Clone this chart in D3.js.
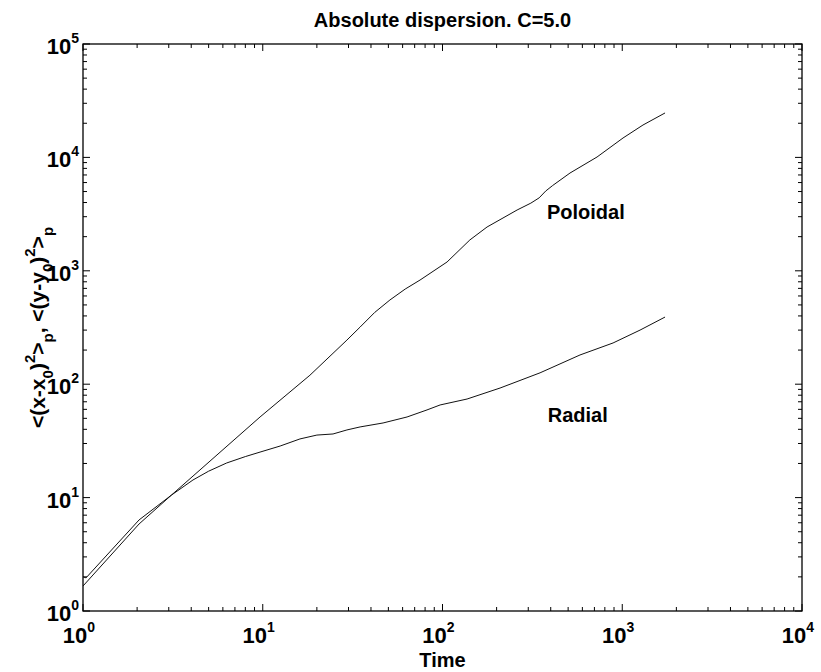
<!DOCTYPE html>
<html><head><meta charset="utf-8">
<script src="https://cdn.jsdelivr.net/npm/d3@7"></script>
<style>body{margin:0;background:#fff;} text{font-family:"Liberation Sans",Arial,sans-serif;font-weight:bold;fill:#000;}</style>
</head><body>
<svg id="c" width="821" height="672"></svg>
<script>
const titleText = "Absolute dispersion. C=5.0";
const xLabel = "Time";
const xExponents = [0, 1, 2, 3, 4];
const yExponents = [0, 1, 2, 3, 4, 5];

const radialT = [1, 1.04, 2.05, 3.1, 4.09, 5, 6.3, 8, 9.66, 12.5, 16.1, 20, 24.6, 29.4, 34.8, 46.7, 63.5, 82, 97, 137, 209, 349, 582, 889, 1256, 1730];
const radialV = [2.0, 1.96, 6.35, 10.5, 14.3, 17.1, 20.2, 23.0, 25.2, 28.5, 32.9, 35.6, 36.4, 39.5, 42, 45.5, 51.4, 59.3, 65.6, 74, 92.5, 126, 181, 231, 300, 391];

const poloidalT = [1, 2.05, 3.1, 9.66, 18.3, 29.4, 34.8, 42, 51, 62, 75, 106, 142, 177, 260, 310, 345, 375, 410, 512, 724, 1010, 1304, 1730];
const poloidalV = [1.66, 5.85, 10.5, 51.4, 120, 245, 319, 430, 553, 690, 829, 1196, 1871, 2434, 3436, 3950, 4400, 5050, 5650, 7280, 10080, 14830, 19300, 24650];

const labels = [{text: "Poloidal", t: 381, v: 2864}, {text: "Radial", t: 385, v: 46.4}];

const svg = d3.select("#c");
const L = 83, R = 802, T = 44, B = 611;
const x = d3.scaleLog().domain([1, 1e4]).range([L, R]);
const y = d3.scaleLog().domain([1, 1e5]).range([B, T]);

const g = svg.append("g");
const maj = 7, mnr = 4;
const isMajor = v => Math.abs(Math.log10(v) - Math.round(Math.log10(v))) < 1e-9;
x.ticks().forEach(v => {
  const len = isMajor(v) ? maj : mnr;
  const px = x(v);
  g.append("line").attr("x1", px).attr("x2", px).attr("y1", B).attr("y2", B - len).attr("stroke", "#000").attr("stroke-width", 1);
  g.append("line").attr("x1", px).attr("x2", px).attr("y1", T).attr("y2", T + len).attr("stroke", "#000").attr("stroke-width", 1);
});
y.ticks().forEach(v => {
  const len = isMajor(v) ? maj : mnr;
  const py = y(v);
  g.append("line").attr("y1", py).attr("y2", py).attr("x1", L).attr("x2", L + len).attr("stroke", "#000").attr("stroke-width", 1);
  g.append("line").attr("y1", py).attr("y2", py).attr("x1", R).attr("x2", R - len).attr("stroke", "#000").attr("stroke-width", 1);
});
g.append("rect").attr("x", L).attr("y", T).attr("width", R - L).attr("height", B - T).attr("fill", "none").attr("stroke", "#000").attr("stroke-width", 1.3);

xExponents.forEach(e => {
  const t = svg.append("text").attr("x", x(Math.pow(10, e)) - 4).attr("y", B + 32).attr("text-anchor", "middle").style("font-size", "22px");
  t.append("tspan").text("10");
  t.append("tspan").attr("dy", -11).style("font-size", "14px").text(e);
});
yExponents.forEach(e => {
  const t = svg.append("text").attr("x", L - 4).attr("y", y(Math.pow(10, e)) + 10).attr("text-anchor", "end").style("font-size", "22px");
  t.append("tspan").text("10");
  t.append("tspan").attr("dy", -11).style("font-size", "14px").text(e);
});

const line = d3.line().x(d => x(d[0])).y(d => y(d[1]));
svg.append("path").datum(radialT.map((t, i) => [t, radialV[i]])).attr("d", line).attr("fill", "none").attr("stroke", "#111").attr("stroke-width", 1);
svg.append("path").datum(poloidalT.map((t, i) => [t, poloidalV[i]])).attr("d", line).attr("fill", "none").attr("stroke", "#111").attr("stroke-width", 1);

labels.forEach(l => {
  svg.append("text").attr("x", x(l.t)).attr("y", y(l.v)).style("font-size", "20px").text(l.text);
});

svg.append("text").attr("x", (L + R) / 2).attr("y", 27).attr("text-anchor", "middle").style("font-size", "20px").text(titleText);
svg.append("text").attr("x", (L + R) / 2).attr("y", 667).attr("text-anchor", "middle").style("font-size", "20px").text(xLabel);
const yl = svg.append("text").attr("transform", `translate(45,${(T + B) / 2}) rotate(-90)`).attr("text-anchor", "middle").style("font-size", "21px");
const parts = [["<(x-x", 0], ["0", 8], [")", -8], ["2", -10], [">", 10], ["p", 8], [", <(y-y", -8], ["0", 8], [")", -8], ["2", -10], [">", 10], ["p", 8]];
parts.forEach(([s, dy]) => {
  const small = /^[02p]$/.test(s);
  yl.append("tspan").attr("dy", dy).style("font-size", small ? "15px" : "21px").text(s);
});
</script>
</body></html>
